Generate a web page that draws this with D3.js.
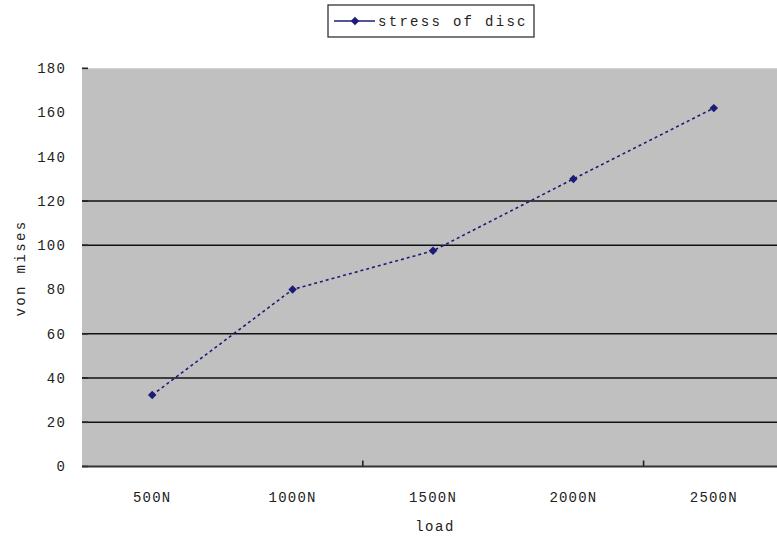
<!DOCTYPE html>
<html>
<head>
<meta charset="utf-8">
<script src="https://cdn.jsdelivr.net/npm/d3@7"></script>
<style>
  html, body { margin: 0; padding: 0; background: #ffffff; }
  svg { display: block; }
  text { font-family: "Liberation Mono", "DejaVu Sans Mono", monospace; fill: #222; }
</style>
</head>
<body>
<svg id="chart" width="777" height="539"></svg>
<script>
// Load cases and the resulting von Mises stress of the disc
const categories = ["500N", "1000N", "1500N", "2000N", "2500N"];
const stressValues = [32.3, 80, 97.5, 130, 162];
const seriesName = "stress of disc";

// Axis labelling
const yTickLabels = [0, 20, 40, 60, 80, 100, 120, 140, 160, 180];
const yTickMarks = [0, 20, 40, 60, 100, 120, 180];
const yGridValues = [20, 40, 60, 100, 120];
const xBoundaryIdx = [2, 4];
const xTitle = "load";
const yTitle = "von mises";

const svg = d3.select("#chart");
const plot = { left: 82, right: 784, top: 68.3, bottom: 466.5 };

const x = d3.scaleBand().domain(categories).range([plot.left, plot.right]);
const y = d3.scaleLinear().domain([0, 180]).range([plot.bottom, plot.top]);

// Plot area background
svg.append("rect")
  .attr("x", plot.left).attr("y", plot.top)
  .attr("width", plot.right - plot.left).attr("height", plot.bottom - plot.top)
  .attr("fill", "#c0c0c0");

// Horizontal gridlines
svg.append("g").selectAll("line").data(yGridValues).join("line")
  .attr("x1", plot.left).attr("x2", plot.right)
  .attr("y1", d => y(d)).attr("y2", d => y(d))
  .attr("stroke", "#111").attr("stroke-width", 1.6);

// Y axis tick marks
svg.append("g").selectAll("line").data(yTickMarks).join("line")
  .attr("x1", plot.left).attr("x2", plot.left + 6)
  .attr("y1", d => y(d)).attr("y2", d => y(d))
  .attr("stroke", "#222").attr("stroke-width", 1.6);

// Y axis labels
svg.append("g").selectAll("text").data(yTickLabels).join("text")
  .attr("x", 66).attr("y", d => y(d))
  .attr("dy", "0.35em")
  .attr("text-anchor", "end")
  .attr("font-size", 14)
  .attr("letter-spacing", 1.2)
  .text(d => d);

// X axis line
svg.append("line")
  .attr("x1", plot.left).attr("x2", plot.right)
  .attr("y1", plot.bottom).attr("y2", plot.bottom)
  .attr("stroke", "#333").attr("stroke-width", 2);

// X axis tick marks at category boundaries
svg.append("g").selectAll("line").data(xBoundaryIdx).join("line")
  .attr("x1", i => x(categories[i])).attr("x2", i => x(categories[i]))
  .attr("y1", plot.bottom).attr("y2", plot.bottom - 6)
  .attr("stroke", "#222").attr("stroke-width", 1.6);

// X axis labels
svg.append("g").selectAll("text").data(categories).join("text")
  .attr("x", d => x(d) + x.bandwidth() / 2).attr("y", 497)
  .attr("dy", "0.35em")
  .attr("text-anchor", "middle")
  .attr("font-size", 14)
  .attr("letter-spacing", 1.2)
  .text(d => d);

// Axis titles
svg.append("text")
  .attr("x", 435).attr("y", 526).attr("dy", "0.35em")
  .attr("text-anchor", "middle").attr("font-size", 14)
  .attr("letter-spacing", 1.5)
  .text(xTitle);

svg.append("text")
  .attr("transform", "translate(20,268) rotate(-90)")
  .attr("dy", "0.35em")
  .attr("text-anchor", "middle").attr("font-size", 14)
  .attr("letter-spacing", 2.4)
  .text(yTitle);

// Data series
const pts = categories.map((c, i) => [x(c) + x.bandwidth() / 2, y(stressValues[i])]);
const lineColor = "#1c1c78";

svg.append("path")
  .attr("d", d3.line()(pts))
  .attr("fill", "none")
  .attr("stroke", lineColor)
  .attr("stroke-width", 1.6)
  .attr("stroke-dasharray", "3,3");

const diamond = d3.symbol().type(d3.symbolSquare).size(36);
svg.append("g").selectAll("path").data(pts).join("path")
  .attr("transform", d => `translate(${d[0]},${d[1]}) rotate(45)`)
  .attr("d", diamond)
  .attr("fill", lineColor);

// Legend
const legend = svg.append("g");
legend.append("rect")
  .attr("x", 328).attr("y", 5).attr("width", 206).attr("height", 32)
  .attr("fill", "#fff").attr("stroke", "#222").attr("stroke-width", 1.2);
legend.append("line")
  .attr("x1", 334).attr("x2", 375).attr("y1", 21).attr("y2", 21)
  .attr("stroke", lineColor).attr("stroke-width", 1.6);
legend.append("path")
  .attr("transform", "translate(355,21) rotate(45)")
  .attr("d", diamond)
  .attr("fill", lineColor);
legend.append("text")
  .attr("x", 378).attr("y", 21).attr("dy", "0.35em")
  .attr("font-size", 14)
  .attr("letter-spacing", 2.3)
  .text(seriesName);
</script>
</body>
</html>
